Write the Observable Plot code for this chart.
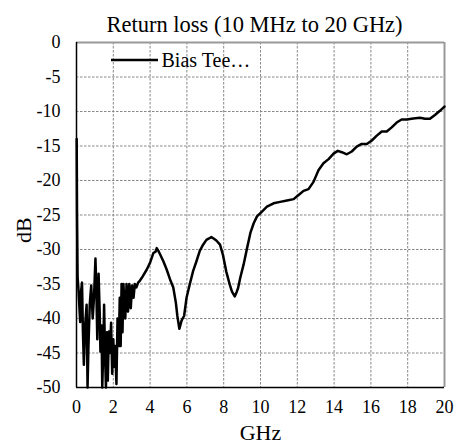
<!DOCTYPE html>
<html>
<head>
<meta charset="utf-8">
<script src="https://cdn.jsdelivr.net/npm/d3@7"></script>
<script src="https://cdn.jsdelivr.net/npm/@observablehq/plot@0.6"></script>
<style>
  html, body { margin: 0; padding: 0; background: white; }
</style>
</head>
<body>
<div id="chart"></div>
<script>
const title = "Return loss (10 MHz to 20 GHz)";
const xLabel = "GHz";
const yLabel = "dB";
const seriesName = "Bias Tee…";
const xTicks = [0, 2, 4, 6, 8, 10, 12, 14, 16, 18, 20];
const yTicks = [0, -5, -10, -15, -20, -25, -30, -35, -40, -45, -50];
const xGrid = [2, 4, 6, 8, 10, 12, 14, 16, 18];
const yGrid = [-5, -10, -15, -20, -25, -30, -35, -40, -45];

const freqGHz = [
  0.01, 0.03, 0.06, 0.1, 0.15, 0.2, 0.25, 0.3, 0.35, 0.4, 0.47, 0.55, 0.6, 0.65, 0.72, 0.8,
  0.88, 0.95, 1.03, 1.08, 1.13, 1.2, 1.26, 1.3, 1.36, 1.4, 1.46, 1.5, 1.55, 1.6, 1.65, 1.7,
  1.76, 1.82, 1.88, 1.94, 2.0, 2.05, 2.1, 2.17, 2.23, 2.3, 2.35, 2.4, 2.45, 2.5, 2.55, 2.65,
  2.72, 2.8, 2.87, 2.95, 3.02, 3.1, 3.17, 3.25, 3.35, 3.45, 3.55, 3.82, 4.0, 4.18, 4.3, 4.36,
  4.45, 4.54, 4.72, 4.9, 5.08, 5.26, 5.4, 5.48, 5.59, 5.71, 5.85, 5.98, 6.16, 6.34, 6.52, 6.7,
  6.88, 7.06, 7.2, 7.33, 7.45, 7.6, 7.8, 7.96, 8.14, 8.33, 8.45, 8.6, 8.7, 8.78, 8.9, 9.08,
  9.27, 9.45, 9.63, 9.81, 10.08, 10.35, 10.71, 11.07, 11.44, 11.8, 12.07, 12.34, 12.61, 12.88,
  13.15, 13.42, 13.7, 13.97, 14.2, 14.42, 14.69, 14.96, 15.23, 15.5, 15.78, 16.05, 16.32, 16.59,
  16.86, 17.13, 17.4, 17.67, 17.95, 18.3, 18.67, 18.94, 19.21, 19.48, 19.75, 20.0
];
const returnLossDb = [
  -14, -25, -34, -35.5, -38, -40.5, -36, -34.8, -42, -46.7, -41, -38, -50, -44, -38, -35.2,
  -40, -37, -31.3, -36, -43, -33.5, -39, -44.8, -41, -50, -44, -38, -45, -50, -42, -49,
  -41.9, -45, -40.6, -48, -43, -47, -44, -49.5, -40, -44, -37, -44, -35, -42, -35, -40,
  -35, -39, -35, -38.5, -35.2, -37, -35, -35.5, -34.8, -34.5, -34.1, -32.9, -31.9, -30.5, -30.3, -29.8,
  -30.2, -30.7, -31.7, -32.9, -34.3, -35.5, -37.7, -39.6, -41.5, -40.3, -39.6, -37, -35, -33.1, -31.7, -30.2,
  -29.3, -28.6, -28.4, -28.2, -28.4, -28.7, -29.3, -30.8, -33.2, -35.1, -36.1, -36.8, -36.2, -35.6, -34.1, -32.2,
  -29.8, -27.6, -26.2, -25.2, -24.5, -23.8, -23.3, -23.1, -22.9, -22.7, -22.1, -21.5, -21.25, -20.2,
  -18.5, -17.5, -16.9, -16.1, -15.7, -15.9, -16.2, -15.8, -15.1, -14.7, -14.7, -14.2, -13.5, -12.9,
  -12.9, -12.3, -11.6, -11.15, -11.15, -11.0, -10.9, -11.05, -11.05, -10.5, -9.9, -9.3
];

const data = freqGHz.map((f, i) => ({f, v: returnLossDb[i]}));
const font = "Liberation Serif";
const fmt = d => String(d);

const chart = Plot.plot({
  width: 469,
  height: 445,
  marginTop: 42,
  marginBottom: 58,
  marginLeft: 76,
  marginRight: 25,
  style: {background: "white", color: "black", fontFamily: "Liberation Serif"},
  x: {domain: [0, 20], label: null},
  y: {domain: [-50, 0], label: null},
  marks: [
    Plot.ruleX(xGrid, {stroke: "#888888", strokeWidth: 1, strokeDasharray: "2.5,1.5"}),
    Plot.ruleY(yGrid, {stroke: "#888888", strokeWidth: 1, strokeDasharray: "2.5,1.5"}),
    Plot.ruleX([20], {stroke: "#999999", strokeWidth: 2}),
    Plot.ruleY([0], {stroke: "#999999", strokeWidth: 2}),
    Plot.ruleX([0], {stroke: "#000000", strokeWidth: 1.5}),
    Plot.ruleY([-50], {stroke: "#000000", strokeWidth: 1.5}),
    Plot.axisX(xTicks, {tickSize: 0, tickPadding: 13, fontSize: 18, fontFamily: font, tickFormat: fmt, label: null}),
    Plot.axisY(yTicks, {tickSize: 0, tickPadding: 16, fontSize: 18, fontFamily: font, tickFormat: fmt, label: null}),
    Plot.line(data, {x: "f", y: "v", stroke: "black", strokeWidth: 2.5, strokeLinejoin: "round"}),
    Plot.text([title], {text: d => d, frameAnchor: "top", dx: -6, dy: -18, lineAnchor: "middle", fontSize: 22.5, fontFamily: font}),
    Plot.text([xLabel], {text: d => d, frameAnchor: "bottom", dy: 45, lineAnchor: "middle", fontSize: 22, fontFamily: font}),
    Plot.text([yLabel], {text: d => d, frameAnchor: "left", rotate: -90, dx: -53, dy: 28, lineAnchor: "middle", fontSize: 22, fontFamily: font}),
    Plot.text([seriesName], {text: d => d, frameAnchor: "top-left", dx: 85, dy: 18, textAnchor: "start", lineAnchor: "middle", fontSize: 20, fontFamily: font})
  ]
});

// legend swatch next to the series name
d3.select(chart).append("line")
  .attr("x1", 111).attr("x2", 158)
  .attr("y1", 60).attr("y2", 60)
  .attr("stroke", "black").attr("stroke-width", 2.5);

document.getElementById("chart").appendChild(chart);
</script>
</body>
</html>
